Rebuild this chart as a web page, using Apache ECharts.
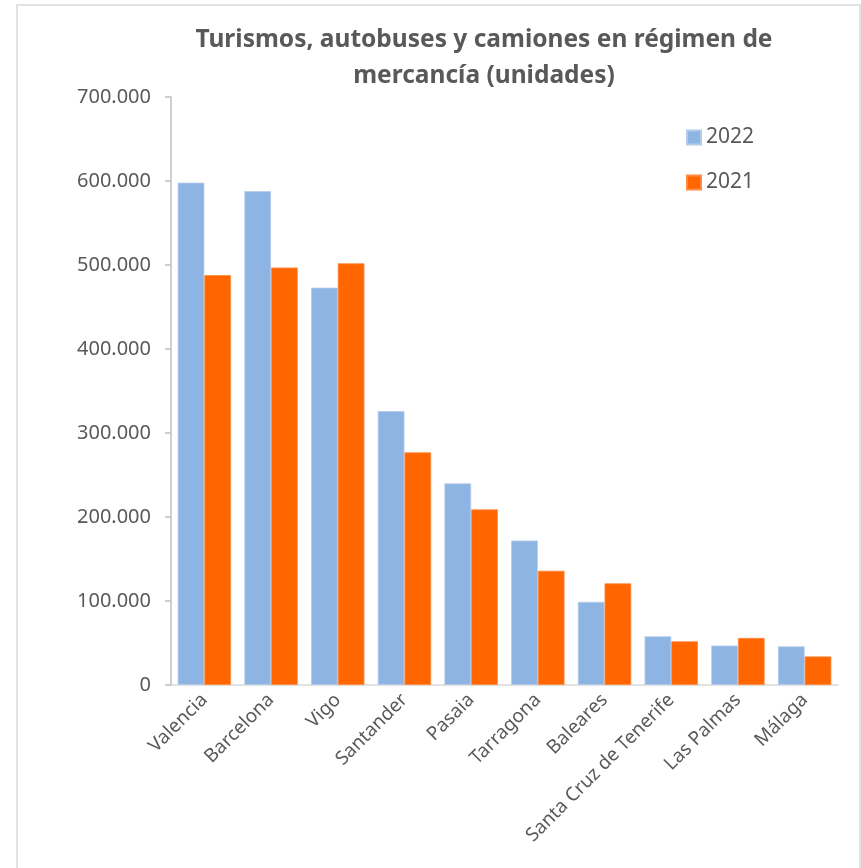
<!DOCTYPE html>
<html>
<head>
<meta charset="utf-8">
<script src="https://cdn.jsdelivr.net/npm/echarts@6/dist/echarts.min.js"></script>
<style>
html,body{margin:0;padding:0;background:#fff;}
#c{width:861px;height:868px;}
</style>
</head>
<body>
<div id="c"></div>
<script>
const categories = ['Valencia','Barcelona','Vigo','Santander','Pasaia','Tarragona','Baleares','Santa Cruz de Tenerife','Las Palmas','Málaga'];
const values2022 = [598000, 588000, 473000, 326000, 240000, 172000, 99000, 58000, 47000, 46000];
const values2021 = [488000, 497000, 502000, 277000, 209000, 136000, 121000, 52000, 56000, 34000];
const seriesNames = ['2022','2021'];
const titleText = 'Turismos, autobuses y camiones en régimen de\nmercancía (unidades)';

const fmt = v => String(v).replace(/\B(?=(\d{3})+(?!\d))/g, '.');
const font = '"Noto Sans", "Open Sans", sans-serif';
const chart = echarts.init(document.getElementById('c'), null, {renderer:'canvas'});
chart.setOption({
  animation:false,
  backgroundColor:'#fff',
  graphic:[{type:'rect', shape:{x:17,y:5,width:843,height:870}, style:{fill:'none', stroke:'#D9D9D9', lineWidth:1.5}, silent:true}],
  title:{text:titleText, left:479, textAlign:'center', top:17, textStyle:{fontFamily:font, fontSize:24.5, fontWeight:'bold', color:'#595959', lineHeight:36}},
  legend:{orient:'vertical', left:681, top:122, itemWidth:14, itemHeight:14, itemGap:24, icon:'rect',
    textStyle:{fontFamily:font, fontSize:21, color:'#595959'}, data:seriesNames},
  grid:{left:171, right:23, top:97, bottom:183, containLabel:false},
  xAxis:{type:'category', data:categories,
    axisLine:{lineStyle:{color:'#D9D9D9', width:1.5}}, axisTick:{show:false},
    axisLabel:{rotate:45, fontFamily:font, fontSize:19, color:'#595959', margin:12, interval:0}},
  yAxis:{type:'value', min:0, max:700000, interval:100000,
    axisLine:{show:true, lineStyle:{color:'#BFBFBF', width:1.5}},
    axisTick:{show:true, length:6, lineStyle:{color:'#BFBFBF', width:1.5}},
    splitLine:{show:false},
    axisLabel:{fontFamily:font, fontSize:20, color:'#595959', margin:20, formatter:fmt}},
  series:[
    {name:seriesNames[0], type:'bar', data:values2022, barGap:'0%', barCategoryGap:'20%',
      itemStyle:{color:'#8EB4E3', borderColor:'#B4CCEC', borderWidth:0.8}},
    {name:seriesNames[1], type:'bar', data:values2021, barGap:'0%', barCategoryGap:'20%',
      itemStyle:{color:'#FF6600', borderColor:'#FF8A40', borderWidth:0.8}}
  ]
});
</script>
</body>
</html>
